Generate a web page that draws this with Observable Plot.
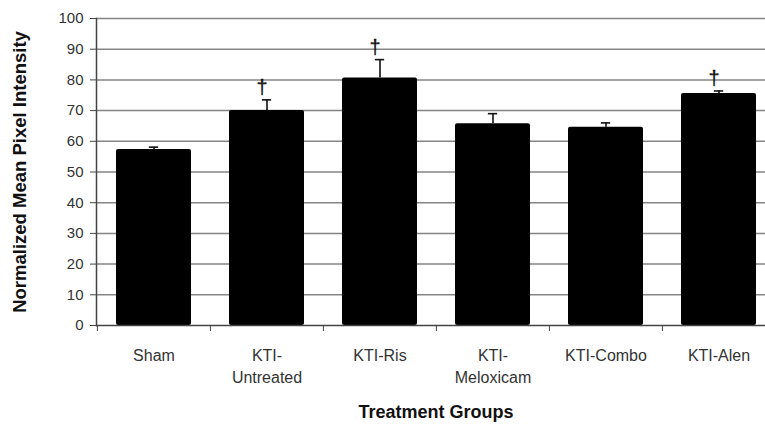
<!DOCTYPE html>
<html>
<head>
<meta charset="utf-8">
<script src="https://cdn.jsdelivr.net/npm/d3@7"></script>
<script src="https://cdn.jsdelivr.net/npm/@observablehq/plot@0.6"></script>
<style>
  html, body { margin: 0; padding: 0; background: #fff; overflow: hidden; }
  #chart svg { font-family: "Liberation Sans", Arial, sans-serif; display: block; }
</style>
</head>
<body>
<div id="chart"></div>
<script>
// ---- data ----
const groups = ["Sham", "KTI-Untreated", "KTI-Ris", "KTI-Meloxicam", "KTI-Combo", "KTI-Alen"];
const tickLabels = ["Sham", "KTI-\nUntreated", "KTI-Ris", "KTI-\nMeloxicam", "KTI-Combo", "KTI-Alen"];
const means = [57.3, 70.0, 80.6, 65.7, 64.6, 75.6];
const errors = [0.8, 3.5, 6.0, 3.3, 1.4, 0.8];
const significant = [false, true, true, false, false, true];
const yTicks = [0, 10, 20, 30, 40, 50, 60, 70, 80, 90, 100];
const yTitle = "Normalized Mean Pixel Intensity";
const xTitle = "Treatment Groups";
const marker = "\u2020";

const rows = groups.map((g, i) => ({
  group: g, label: tickLabels[i], mean: means[i], top: means[i] + errors[i], sig: significant[i]
}));

const W = 765, H = 425;
const xRange = [96, 775];
const step = (xRange[1] - xRange[0]) / groups.length;
const bandwidth = step * (1 - 0.34);

const chart = Plot.plot({
  width: W,
  height: H,
  marginTop: 18,
  marginBottom: 100,
  marginLeft: 96,
  marginRight: 0,
  style: { fontFamily: "Liberation Sans, Arial, sans-serif", background: "#fff", overflow: "visible" },
  x: { domain: groups, range: xRange, paddingInner: 0.34, paddingOuter: 0.17 },
  y: { domain: [0, 100] },
  marks: [
    Plot.ruleY(yTicks.filter(d => d > 0), { stroke: "#858585", strokeWidth: 1.5 }),
    Plot.barY(rows, { x: "group", y: "mean", fill: "#000", rx: 2 }),
    Plot.ruleX(rows, { x: "group", y1: "mean", y2: "top", stroke: "#111", strokeWidth: 1.6 }),
    Plot.tickY(rows, { x: "group", y: "top", stroke: "#111", strokeWidth: 1.6,
      insetLeft: (bandwidth - 9) / 2, insetRight: (bandwidth - 9) / 2 }),
    Plot.text(rows.filter(d => d.sig), { x: "group", y: "top", text: () => marker,
      dx: -5, dy: -12, lineAnchor: "middle", fontSize: 20, fill: "#111",
      stroke: "#111", strokeWidth: 0.3 }),
    Plot.ruleY([0], { stroke: "#444", strokeWidth: 1.5 }),
    Plot.frame({ anchor: "left", stroke: "#444", strokeWidth: 1.5 }),
    Plot.axisY({ ticks: yTicks, tickSize: 6, tickPadding: 7, fontSize: 15, label: null,
      stroke: "#444", color: "#333" }),
    Plot.axisX({ tickSize: 6, dx: -step / 2, tickFormat: () => "", label: null, stroke: "#444" }),
    Plot.text(rows, { x: "group", text: "label", frameAnchor: "bottom", dy: 19,
      lineAnchor: "top", lineHeight: 1.42, fontSize: 16, fill: "#333" }),
    Plot.text([xTitle], { frameAnchor: "bottom", dy: 87, dx: 5, lineAnchor: "middle",
      fontSize: 18, fontWeight: "bold", fill: "#111" }),
    Plot.text([yTitle], { frameAnchor: "left", dx: -76, rotate: -90, textAnchor: "middle",
      lineAnchor: "middle", fontSize: 18.5, fontWeight: "bold", fill: "#111" })
  ]
});
document.getElementById("chart").append(chart);
</script>
</body>
</html>
